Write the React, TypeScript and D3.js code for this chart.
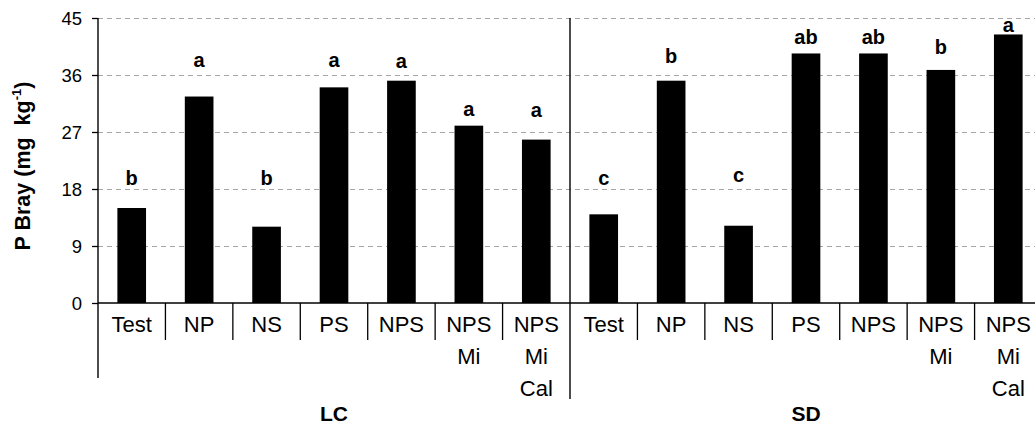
import React from "react";
import * as d3 from "d3";

// Soil available phosphorus (P Bray) by fertilizer treatment, for two sites
const groups = ["LC", "SD"];
const treatments = ["Test", "NP", "NS", "PS", "NPS", "NPS Mi", "NPS Mi Cal"];
const lcValues = [15.0, 32.6, 12.05, 34.05, 35.1, 28.0, 25.8];
const sdValues = [14.0, 35.1, 12.2, 39.4, 39.4, 36.8, 42.4];
// Mean-separation letters and the P level (mg kg-1) each letter sits at
const lcLetters = ["b", "a", "b", "a", "a", "a", "a"];
const sdLetters = ["c", "b", "c", "ab", "ab", "b", "a"];
const lcLetterLevels = [18.6, 37.2, 18.6, 37.3, 37.05, 29.6, 29.3];
const sdLetterLevels = [18.6, 37.85, 19.15, 40.9, 40.9, 39.3, 42.85];
const yTicks = [0, 9, 18, 27, 36, 45];

const W = 1035;
const H = 428;
const FONT = "'Liberation Sans', Arial, Helvetica, sans-serif";

type Row = {
  key: string;
  group: string;
  treatment: string;
  value: number;
  letter: string;
  level: number;
};

const rows: Row[] = groups.flatMap((g) => {
  const vals = g === "LC" ? lcValues : sdValues;
  const lets = g === "LC" ? lcLetters : sdLetters;
  const levs = g === "LC" ? lcLetterLevels : sdLetterLevels;
  return treatments.map((t, i) => ({
    key: `${g}|${t}`,
    group: g,
    treatment: t,
    value: vals[i],
    letter: lets[i],
    level: levs[i],
  }));
});

export default function App() {
  const left = 98;
  const right = 1042;
  const top = 18;
  const bottom = 303;

  const pInner = 0.575;
  const x = d3
    .scaleBand<string>()
    .domain(rows.map((r) => r.key))
    .range([left, right])
    .paddingInner(pInner)
    .paddingOuter(pInner / 2);
  const step = x.step();
  const cellStart = (k: string) => (x(k) as number) - (step * pInner) / 2;

  const y = d3.scaleLinear().domain([0, 45]).range([bottom, top]);

  const groupCells = groups.map((g) => {
    const keys = rows.filter((r) => r.group === g).map((r) => r.key);
    const x0 = cellStart(keys[0]);
    const x1 = cellStart(keys[keys.length - 1]) + step;
    return { g, x0, x1 };
  });

  const lineH = 32;

  return (
    <svg
      width={W}
      height={H}
      style={{ position: "absolute", left: 0, top: 0, background: "#fff" }}
      fontFamily={FONT}
    >
      {/* horizontal dashed gridlines */}
      {yTicks
        .filter((t) => t > 0)
        .map((t) => (
          <line
            key={`g${t}`}
            x1={left}
            x2={W}
            y1={Math.round(y(t)) + 0.5}
            y2={Math.round(y(t)) + 0.5}
            stroke="#a6a6a6"
            strokeWidth={1.2}
            strokeDasharray="5,4"
          />
        ))}

      {/* bars */}
      {rows.map((r) => (
        <rect
          key={r.key}
          x={x(r.key)}
          y={y(r.value)}
          width={x.bandwidth()}
          height={y(0) - y(r.value)}
          fill="#000"
        />
      ))}

      {/* significance letters */}
      {rows.map((r) => (
        <text
          key={`l${r.key}`}
          x={(x(r.key) as number) + x.bandwidth() / 2}
          y={y(r.level)}
          textAnchor="middle"
          fontWeight="bold"
          fontSize={20}
          fill="#000"
        >
          {r.letter}
        </text>
      ))}

      {/* y axis */}
      <line x1={left} x2={left} y1={top} y2={378} stroke="#000" strokeWidth={1.4} />
      {yTicks.map((t) => (
        <g key={`t${t}`}>
          <line
            x1={left - 6}
            x2={left}
            y1={Math.round(y(t)) + 0.5}
            y2={Math.round(y(t)) + 0.5}
            stroke="#000"
            strokeWidth={1.3}
          />
          <text
            x={left - 16}
            y={y(t)}
            dy="0.36em"
            textAnchor="end"
            fontSize={18.5}
            fill="#000"
          >
            {t}
          </text>
        </g>
      ))}

      {/* x axis baseline */}
      <line x1={left} x2={W} y1={bottom} y2={bottom} stroke="#000" strokeWidth={1.5} />

      {/* site separator */}
      {groupCells.slice(1).map((c) => (
        <line
          key={`sep${c.g}`}
          x1={c.x0}
          x2={c.x0}
          y1={top}
          y2={399}
          stroke="#000"
          strokeWidth={1.4}
        />
      ))}

      {/* category dividers */}
      {rows.map((r, i) =>
        i === 0 || i === treatments.length ? null : (
          <line
            key={`d${r.key}`}
            x1={cellStart(r.key)}
            x2={cellStart(r.key)}
            y1={bottom}
            y2={340}
            stroke="#000"
            strokeWidth={1.3}
          />
        )
      )}

      {/* category labels */}
      {rows.map((r) => {
        const cx = cellStart(r.key) + step / 2;
        return (
          <text key={`c${r.key}`} textAnchor="middle" fontSize={22} fill="#000">
            {r.treatment.split(" ").map((part, j) => (
              <tspan key={j} x={cx} y={332 + j * lineH}>
                {part}
              </tspan>
            ))}
          </text>
        );
      })}

      {/* site labels */}
      {groupCells.map((c) => (
        <text
          key={`s${c.g}`}
          x={(c.x0 + c.x1) / 2}
          y={421}
          textAnchor="middle"
          fontWeight="bold"
          fontSize={21}
          fill="#000"
        >
          {c.g}
        </text>
      ))}

      {/* y axis title */}
      <text
        transform={`translate(30, ${166}) rotate(-90)`}
        textAnchor="middle"
        fontWeight="bold"
        fontSize={21.5}
        fill="#000"
      >
        P Bray (mg{"\u00a0\u00a0"}kg
        <tspan fontSize={13} dy={-9}>
          -1
        </tspan>
        <tspan dy={9}>)</tspan>
      </text>
    </svg>
  );
}
